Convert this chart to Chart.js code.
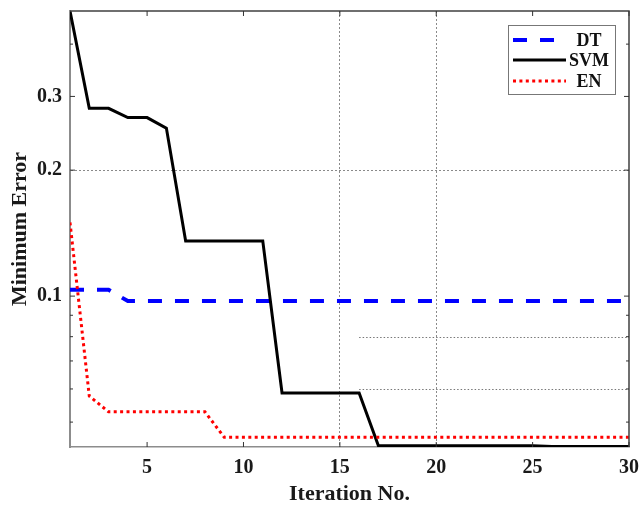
<!DOCTYPE html>
<html>
<head>
<meta charset="utf-8">
<script src="https://cdn.jsdelivr.net/npm/chart.js@4.4.1/dist/chart.umd.min.js"></script>
<style>
  html, body { margin: 0; padding: 0; background: #fff; }
  #wrap { width: 639px; height: 505px; }
</style>
</head>
<body>
<div id="wrap"><canvas id="errChart" width="639" height="505"></canvas></div>
<script>
// Minimum error per iteration for each classifier
const iterations = [1, 2, 3, 4, 5, 6, 7, 8, 9, 10, 11, 12, 13, 14, 15,
  16, 17, 18, 19, 20, 21, 22, 23, 24, 25, 26, 27, 28, 29, 30];
const dtError = [0.1035, 0.1035, 0.1035, 0.0973, 0.0973, 0.0973, 0.0973, 0.0973, 0.0973, 0.0973,
  0.0973, 0.0973, 0.0973, 0.0973, 0.0973, 0.0973, 0.0973, 0.0973, 0.0973, 0.0973,
  0.0973, 0.0973, 0.0973, 0.0973, 0.0973, 0.0973, 0.0973, 0.0973, 0.0973, 0.0973];
const svmError = [0.48, 0.281, 0.281, 0.267, 0.267, 0.252, 0.1355, 0.1355, 0.1355, 0.1355,
  0.1355, 0.0587, 0.0587, 0.0587, 0.0587, 0.0587, 0.0439, 0.0439, 0.0439, 0.0439,
  0.0439, 0.0439, 0.0439, 0.0439, 0.0439, 0.0437, 0.0437, 0.0437, 0.0437, 0.0437];
const enError = [0.15, 0.0577, 0.0529, 0.0529, 0.0529, 0.0529, 0.0529, 0.0529, 0.046, 0.046,
  0.046, 0.046, 0.046, 0.046, 0.046, 0.046, 0.046, 0.046, 0.046, 0.046,
  0.046, 0.046, 0.046, 0.046, 0.046, 0.046, 0.046, 0.046, 0.046, 0.046];

const xTickValues = [5, 10, 15, 20, 25, 30];
const yTickValues = [0.1, 0.2, 0.3];
const yMinorTicks = [0.05, 0.06, 0.07, 0.08, 0.09, 0.4];
const xGridValues = [15, 20];
const yGridValues = [0.2];
// stray grid segments that only run over the right part of the axes
const partialGridY = [0.08, 0.06];
const partialGridFrom = 16;

const FONT = "'Liberation Serif', 'Times New Roman', serif";

function seg(ctx, x1, y1, x2, y2) {
  ctx.beginPath();
  ctx.moveTo(x1, y1);
  ctx.lineTo(x2, y2);
  ctx.stroke();
}

// keep the plot box fixed: no extra room for edge labels
function fixBox(s, size) {
  if (s.isHorizontal()) s.height = size; else s.width = size;
  s.paddingLeft = s.paddingRight = s.paddingTop = s.paddingBottom = 0;
}

// MATLAB-style frame: inward ticks, dark top/right edges, boxed legend
const matlabFrame = {
  id: 'matlabFrame',
  beforeDatasetsDraw(chart) {
    const { ctx, chartArea: a, scales: { x, y } } = chart;
    ctx.save();
    ctx.strokeStyle = '#777';
    ctx.lineWidth = 1;
    ctx.setLineDash([1.5, 2]);
    const x0 = x.getPixelForValue(partialGridFrom);
    partialGridY.forEach(v => {
      const py = Math.round(y.getPixelForValue(v)) + 0.5;
      seg(ctx, x0, py, a.right, py);
    });
    ctx.restore();
  },
  afterDraw(chart) {
    const { ctx, chartArea: a, scales: { x, y } } = chart;
    ctx.save();
    ctx.strokeStyle = '#404040';
    ctx.lineWidth = 1.5;
    ctx.beginPath();
    ctx.moveTo(a.left, a.top);
    ctx.lineTo(a.right, a.top);
    ctx.lineTo(a.right, a.bottom);
    ctx.stroke();

    ctx.lineWidth = 1;
    ctx.strokeStyle = '#333';
    xTickValues.forEach(v => {
      const px = x.getPixelForValue(v);
      seg(ctx, px, a.bottom, px, a.bottom - 5);
      seg(ctx, px, a.top, px, a.top + 5);
    });
    yTickValues.forEach(v => {
      const py = y.getPixelForValue(v);
      seg(ctx, a.left, py, a.left + 5, py);
      seg(ctx, a.right, py, a.right - 5, py);
    });
    yMinorTicks.forEach(v => {
      const py = y.getPixelForValue(v);
      seg(ctx, a.left, py, a.left + 3, py);
      seg(ctx, a.right, py, a.right - 3, py);
    });

    // legend box
    const bx = a.right - 14, by = a.top + 14, bw = 107, bh = 69;
    ctx.fillStyle = '#fff';
    ctx.fillRect(bx - bw, by, bw, bh);
    ctx.strokeStyle = '#777';
    ctx.strokeRect(bx - bw + 0.5, by + 0.5, bw, bh);
    const rowY = [by + 15, by + 35, by + 56];
    ctx.font = 'bold 18px ' + FONT;
    ctx.textAlign = 'center';
    ctx.textBaseline = 'middle';
    chart.data.datasets.forEach((ds, i) => {
      ctx.strokeStyle = ds.borderColor;
      ctx.lineWidth = ds.borderWidth;
      ctx.setLineDash(ds.borderDash || []);
      seg(ctx, bx - bw + 5, rowY[i], bx - bw + 58, rowY[i]);
      ctx.setLineDash([]);
      ctx.fillStyle = '#111';
      ctx.fillText(ds.label, bx - bw + 81, rowY[i] + 1);
    });
    ctx.restore();
  }
};

new Chart(document.getElementById('errChart'), {
  type: 'line',
  data: {
    labels: iterations,
    datasets: [
      {
        label: 'DT',
        data: dtError,
        borderColor: '#0000ff',
        borderWidth: 4,
        borderDash: [14, 13],
        order: 3,
      },
      {
        label: 'SVM',
        data: svmError,
        borderColor: '#000000',
        borderWidth: 3,
        order: 2,
      },
      {
        label: 'EN',
        data: enError,
        borderColor: '#ff0000',
        borderWidth: 3,
        borderDash: [3, 3.4],
        order: 1,
      },
    ],
  },
  options: {
    responsive: false,
    animation: false,
    elements: {
      point: { radius: 0, hoverRadius: 0 },
      line: { tension: 0, fill: false, borderCapStyle: 'butt' },
    },
    layout: { padding: { top: 11, right: 10, left: 0, bottom: 0 } },
    plugins: {
      legend: { display: false },
      tooltip: { enabled: false },
    },
    scales: {
      x: {
        type: 'linear',
        min: 1,
        max: 30,
        afterBuildTicks: s => { s.ticks = xTickValues.map(v => ({ value: v })); },
        afterFit: s => fixBox(s, 58),
        grid: {
          drawTicks: false,
          color: c => xGridValues.includes(c.tick && c.tick.value) ? '#8a8a8a' : 'transparent',
          lineWidth: 1,
        },
        border: { color: '#8c8c8c', width: 1.5, dash: [2, 2] },
        ticks: {
          color: '#1a1a1a',
          padding: 9,
          maxRotation: 0,
          font: { family: FONT, size: 20, weight: 'bold' },
        },
        title: {
          display: true,
          text: 'Iteration No.',
          color: '#1a1a1a',
          padding: { top: 0, bottom: 0 },
          font: { family: FONT, size: 22, weight: 'bold', lineHeight: 1 },
        },
      },
      y: {
        type: 'logarithmic',
        min: 0.0436,
        max: 0.48,
        afterBuildTicks: s => { s.ticks = yTickValues.map(v => ({ value: v })); },
        afterFit: s => fixBox(s, 70),
        grid: {
          drawTicks: false,
          color: c => yGridValues.includes(c.tick && c.tick.value) ? '#8a8a8a' : 'transparent',
          lineWidth: 1,
        },
        border: { color: '#8c8c8c', width: 2, dash: [2, 2] },
        ticks: {
          color: '#1a1a1a',
          padding: 8,
          callback: v => String(v),
          font: { family: FONT, size: 20, weight: 'bold' },
        },
        title: {
          display: true,
          text: 'Minimum Error',
          color: '#1a1a1a',
          padding: { top: 9, bottom: 0 },
          font: { family: FONT, size: 22, weight: 'bold', lineHeight: 1 },
        },
      },
    },
  },
  plugins: [matlabFrame],
});
</script>
</body>
</html>
